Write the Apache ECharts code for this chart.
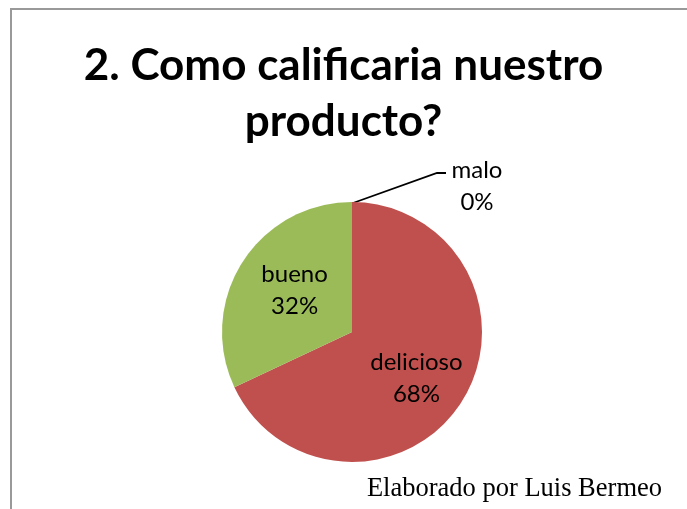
<!DOCTYPE html>
<html>
<head>
<meta charset="utf-8">
<script src="https://cdn.jsdelivr.net/npm/echarts@6/dist/echarts.min.js"></script>
<style>
  html, body { margin: 0; padding: 0; background: #fff; }
  #chart { width: 687px; height: 509px; }
</style>
</head>
<body>
<div id="chart"></div>
<script>
// Ratings for the product survey question
const categories = ['delicioso', 'bueno', 'malo'];
const percentages = [68, 32, 0];
const sliceColors = ['#C0504D', '#9BBB59', '#4F81BD'];
const titleText = '2. Como calificaria nuestro\nproducto?';
const footerText = 'Elaborado por Luis Bermeo';

const chart = echarts.init(document.getElementById('chart'));

const labelFont = 'Lato, "Open Sans", sans-serif';

const data = categories.map((name, i) => {
  const item = {
    name: name,
    value: percentages[i],
    itemStyle: { color: sliceColors[i] }
  };
  if (percentages[i] === 0) {
    item.label = { position: 'outside' };
    item.labelLine = { show: true, lineStyle: { color: '#000', width: 1.8 } };
  }
  return item;
});

chart.setOption({
  animation: false,
  backgroundColor: '#fff',
  title: {
    text: titleText,
    left: 'center',
    top: 33,
    textStyle: {
      fontFamily: labelFont,
      fontWeight: 'bold',
      fontSize: 44,
      lineHeight: 56,
      color: '#000'
    }
  },
  graphic: [
    {
      type: 'rect',
      shape: { x: 11, y: 9, width: 700, height: 520 },
      style: { fill: 'none', stroke: '#999', lineWidth: 2 },
      silent: true
    },
    {
      type: 'text',
      right: 25,
      top: 476,
      style: {
        text: footerText,
        font: '26.5px "Liberation Serif", "Times New Roman", serif',
        fill: '#000'
      }
    }
  ],
  series: [{
    type: 'pie',
    center: [352, 332],
    radius: [0, 130],
    startAngle: 90,
    clockwise: true,
    avoidLabelOverlap: false,
    label: {
      show: true,
      position: 'inside',
      formatter: '{b}\n{c}%',
      fontFamily: labelFont,
      fontSize: 24,
      lineHeight: 32,
      color: '#000'
    },
    labelLine: { show: false },
    labelLayout: function (params) {
      if (params.dataIndex === 2) {
        return {
          x: 477,
          y: 186,
          align: 'center',
          verticalAlign: 'middle',
          labelLinePoints: [[353, 203], [437, 173], [446, 173]]
        };
      }
      if (params.dataIndex === 0) {
        return { dx: 7, dy: 10 };
      }
      if (params.dataIndex === 1) {
        return { dx: 0, dy: -5 };
      }
      return {};
    },
    data: data
  }]
});
</script>
</body>
</html>
